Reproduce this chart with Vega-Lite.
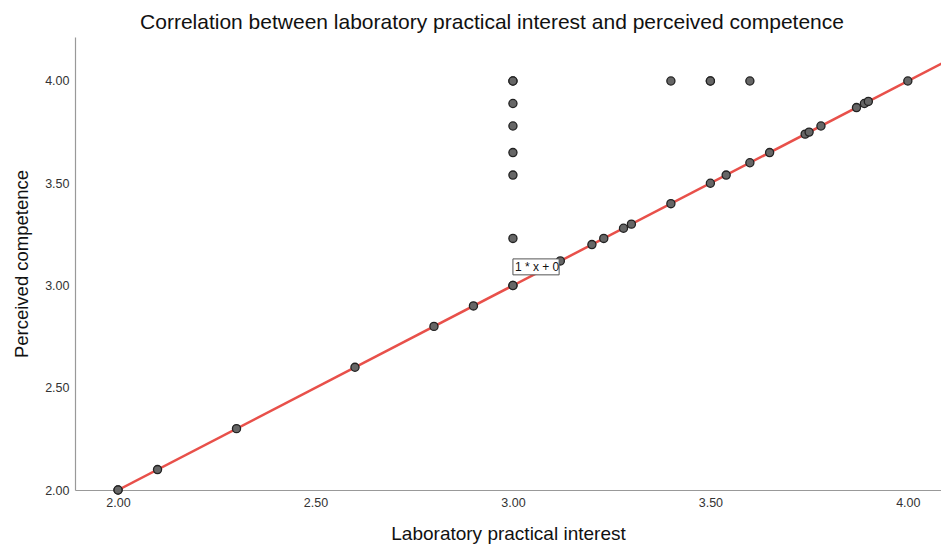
{
  "$schema": "https://vega.github.io/schema/vega-lite/v6.json",
  "width": 866,
  "height": 453,
  "autosize": {"type": "none"},
  "padding": {"left": 75, "top": 37, "right": 0, "bottom": 55},
  "background": "white",
  "config": {
    "view": {"stroke": null},
    "font": "Liberation Sans",
    "axis": {"grid": false, "ticks": false, "domainColor": "#999999", "domainWidth": 1.2, "labelColor": "#333333", "labelFont": "Liberation Sans", "labelFontSize": 12.5, "titleFont": "Liberation Sans", "titleFontWeight": "normal", "titleColor": "#111111", "titleFontSize": 19}
  },
  "title": {"text": "Correlation between laboratory practical interest and perceived competence", "font": "Liberation Sans", "fontSize": 21, "fontWeight": "normal", "color": "#111111", "anchor": "middle", "dx": -16, "offset": 4},
  "datasets": {
    "pts": [
      {"x": 2.00, "y": 2.00}, {"x": 2.00, "y": 2.00}, {"x": 2.10, "y": 2.10}, {"x": 2.30, "y": 2.30}, {"x": 2.60, "y": 2.60},
      {"x": 2.80, "y": 2.80}, {"x": 2.90, "y": 2.90}, {"x": 3.00, "y": 3.00}, {"x": 3.00, "y": 3.00}, {"x": 3.12, "y": 3.12},
      {"x": 3.20, "y": 3.20}, {"x": 3.23, "y": 3.23}, {"x": 3.28, "y": 3.28}, {"x": 3.30, "y": 3.30}, {"x": 3.40, "y": 3.40},
      {"x": 3.50, "y": 3.50}, {"x": 3.54, "y": 3.54}, {"x": 3.60, "y": 3.60}, {"x": 3.65, "y": 3.65}, {"x": 3.74, "y": 3.74},
      {"x": 3.75, "y": 3.75}, {"x": 3.78, "y": 3.78}, {"x": 3.87, "y": 3.87}, {"x": 3.89, "y": 3.89}, {"x": 3.90, "y": 3.90},
      {"x": 4.00, "y": 4.00},
      {"x": 3.00, "y": 4.00}, {"x": 3.00, "y": 4.00}, {"x": 3.00, "y": 3.89}, {"x": 3.00, "y": 3.78}, {"x": 3.00, "y": 3.65},
      {"x": 3.00, "y": 3.54}, {"x": 3.00, "y": 3.23},
      {"x": 3.40, "y": 4.00}, {"x": 3.50, "y": 4.00}, {"x": 3.50, "y": 4.00}, {"x": 3.60, "y": 4.00}
    ],
    "fit": [{"x": 2.0, "y": 2.0}, {"x": 4.1, "y": 4.1}],
    "lab": [{"x": 3.0, "x2": 3.117, "y": 3.052, "y2": 3.13, "ty": 3.09, "label": "1 * x + 0"}]
  },
  "encoding": {
    "x": {"field": "x", "type": "quantitative", "scale": {"domain": [1.891, 4.084], "nice": false, "zero": false},
      "axis": {"title": "Laboratory practical interest", "values": [2, 2.5, 3, 3.5, 4], "format": ".2f", "labelPadding": 6, "titlePadding": 16}},
    "y": {"field": "y", "type": "quantitative", "scale": {"domain": [2.0, 4.215], "nice": false, "zero": false},
      "axis": {"title": "Perceived competence", "titleFontSize": 18.5, "values": [2, 2.5, 3, 3.5, 4], "format": ".2f", "labelPadding": 6, "titlePadding": 13}}
  },
  "layer": [
    {"data": {"name": "fit"}, "mark": {"type": "line", "color": "#e8504a", "strokeWidth": 2.5, "clip": true}},
    {"data": {"name": "pts"}, "mark": {"type": "point", "filled": true, "fill": "#666666", "stroke": "#222222", "strokeWidth": 1.3, "size": 66, "opacity": 1, "fillOpacity": 1}},
    {"data": {"name": "lab"}, "mark": {"type": "rect", "fill": "white", "stroke": "#555555", "strokeWidth": 1},
      "encoding": {"x2": {"field": "x2"}, "y2": {"field": "y2"}}},
    {"data": {"name": "lab"}, "mark": {"type": "text", "align": "left", "baseline": "middle", "dx": 2, "fontSize": 12, "font": "Liberation Sans", "color": "#111111"},
      "encoding": {"y": {"field": "ty", "type": "quantitative"}, "text": {"field": "label"}}}
  ]
}
